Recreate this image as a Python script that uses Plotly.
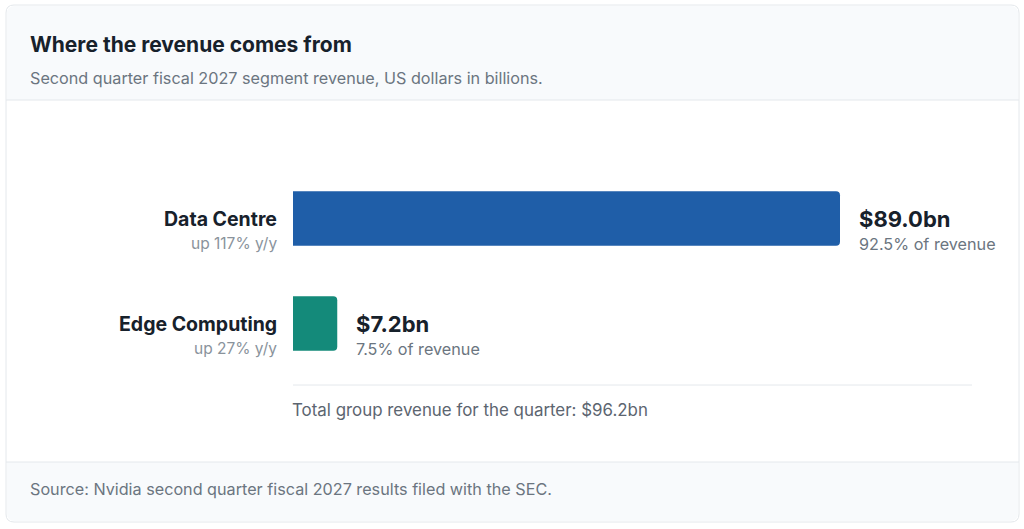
import plotly.graph_objects as go

segments = ["Data Centre", "Edge Computing"]
revenue_bn = [89.0, 7.2]
yoy_growth = ["up 117% y/y", "up 27% y/y"]
share_of_revenue = ["92.5%", "7.5%"]
total_revenue_bn = 96.2

bar_colors = ["#1f5ea8", "#148a7a"]
dark = "#17212b"
grey = "#6b7580"
line_grey = "#e4e8ec"
header_bg = "#f8fafc"

W, H = 1024, 529
L, R, T, B = 293, 972, 166, 376  # plot area in pixels


def px(x):
    return (x - L) / (R - L)


def py(y):
    return (B - y) / (B - T)


fig = go.Figure(go.Bar(
    x=revenue_bn, y=segments, orientation="h",
    marker=dict(color=bar_colors, cornerradius=4, line_width=0),
    width=0.52, hoverinfo="skip",
))

shapes = []
# card
r = 8
x0, y0, x1, y1 = 6, 5, 1019, 522
def rounded(x0, y0, x1, y1, rt, rb):
    return (f"M {px(x0 + rt)},{py(y0)} L {px(x1 - rt)},{py(y0)} "
            f"Q {px(x1)},{py(y0)} {px(x1)},{py(y0 + rt)} "
            f"L {px(x1)},{py(y1 - rb)} Q {px(x1)},{py(y1)} {px(x1 - rb)},{py(y1)} "
            f"L {px(x0 + rb)},{py(y1)} Q {px(x0)},{py(y1)} {px(x0)},{py(y1 - rb)} "
            f"L {px(x0)},{py(y0 + rt)} Q {px(x0)},{py(y0)} {px(x0 + rt)},{py(y0)} Z")

shapes.append(dict(type="path", xref="paper", yref="paper", path=rounded(x0, y0, x1, y1, r, r),
                   fillcolor="white", line=dict(color=line_grey, width=1), layer="below"))
shapes.append(dict(type="path", xref="paper", yref="paper", path=rounded(x0 + 1, y0 + 1, x1 - 1, 100, r, 0),
                   fillcolor=header_bg, line_width=0, layer="below"))
shapes.append(dict(type="path", xref="paper", yref="paper", path=rounded(x0 + 1, 462, x1 - 1, y1 - 1, 0, r),
                   fillcolor=header_bg, line_width=0, layer="below"))
shapes.append(dict(type="line", xref="paper", yref="paper", x0=px(x0), x1=px(x1), y0=py(100), y1=py(100),
                   line=dict(color=line_grey, width=1), layer="below"))
shapes.append(dict(type="line", xref="paper", yref="paper", x0=px(x0), x1=px(x1), y0=py(462), y1=py(462),
                   line=dict(color=line_grey, width=1), layer="below"))
shapes.append(dict(type="line", xref="paper", yref="paper", x0=0, x1=1, y0=py(385), y1=py(385),
                   line=dict(color=line_grey, width=1), layer="below"))

ann = []
def text(x, y, s, size, color, bold=False, xanchor="left"):
    ann.append(dict(xref="paper", yref="paper", x=px(x), y=py(y), text=f"<b>{s}</b>" if bold else s,
                    showarrow=False, xanchor=xanchor, yanchor="middle",
                    font=dict(size=size, color=color, family="Inter")))

text(28, 44, "Where the revenue comes from", 21, dark, bold=True)
text(28, 78, "Second quarter fiscal 2027 segment revenue, US dollars in billions.", 16.2, grey)
text(290, 410, f"Total group revenue for the quarter: ${total_revenue_bn:.1f}bn", 16.9, "#5c6570")
text(28, 489, "Source: Nvidia second quarter fiscal 2027 results filed with the SEC.", 16.2, grey)

for seg, val, yoy, share in zip(segments, revenue_bn, yoy_growth, share_of_revenue):
    ann.append(dict(x=0, y=seg, xref="x", yref="y", text=f"<b>{seg}</b>", showarrow=False,
                    xanchor="right", yanchor="middle", xshift=-14, yshift=0,
                    font=dict(size=19.5, color=dark, family="Inter")))
    ann.append(dict(x=0, y=seg, xref="x", yref="y", text=yoy, showarrow=False,
                    xanchor="right", yanchor="middle", xshift=-14, yshift=-25,
                    font=dict(size=15.5, color="#8a939c", family="Inter")))
    ann.append(dict(x=val, y=seg, xref="x", yref="y", text=f"<b>${val:.1f}bn</b>", showarrow=False,
                    xanchor="left", yanchor="middle", xshift=17, yshift=0,
                    font=dict(size=22, color=dark, family="Inter")))
    ann.append(dict(x=val, y=seg, xref="x", yref="y", text=f"{share} of revenue", showarrow=False,
                    xanchor="left", yanchor="middle", xshift=17, yshift=-25,
                    font=dict(size=16.2, color=grey, family="Inter")))

fig.update_layout(
    width=W, height=H,
    margin=dict(l=L, r=W - R, t=T, b=H - B, pad=0),
    paper_bgcolor="white", plot_bgcolor="rgba(0,0,0,0)",
    showlegend=False,
    xaxis=dict(range=[0, 89.0 * (R - L) / 547], visible=False, fixedrange=True),
    yaxis=dict(visible=False, fixedrange=True, autorange=False, range=[1.5, -0.5]),
    shapes=shapes, annotations=ann,
    font=dict(family="Inter"),
)

fig.write_html("out.html", config={"displayModeBar": False},
               post_script="document.body.style.margin='0';document.body.style.overflow='hidden';")
